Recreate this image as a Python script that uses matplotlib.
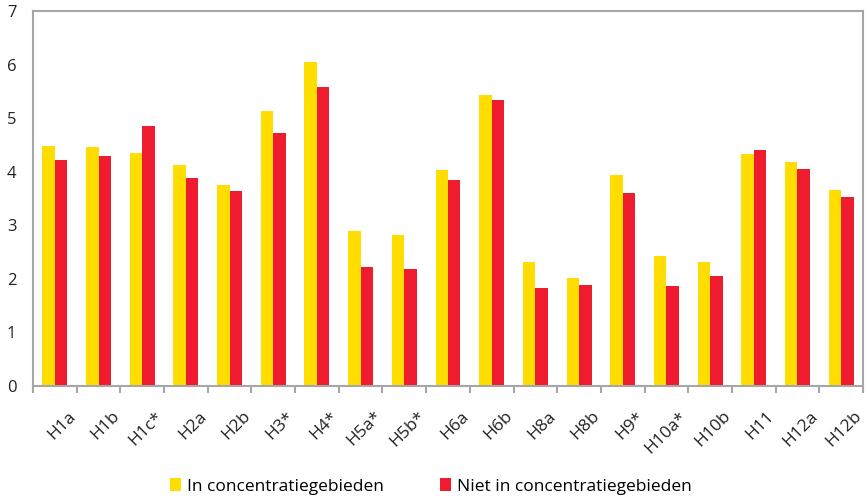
import numpy as np
import matplotlib as mlib
mlib.use('Agg')
import matplotlib.pyplot as plt
from matplotlib.transforms import ScaledTranslation

mlib.rcParams.update({'font.family': ['Open Sans', 'DejaVu Sans']})

categories = ['H1a', 'H1b', 'H1c*', 'H2a', 'H2b', 'H3*', 'H4*', 'H5a*', 'H5b*',
              'H6a', 'H6b', 'H8a', 'H8b', 'H9*', 'H10a*', 'H10b', 'H11',
              'H12a', 'H12b']
in_conc = [4.48, 4.46, 4.35, 4.13, 3.76, 5.14, 6.04, 2.89, 2.82,
           4.04, 5.43, 2.31, 2.01, 3.94, 2.42, 2.31, 4.33, 4.18, 3.66]
niet_conc = [4.21, 4.29, 4.85, 3.88, 3.64, 4.72, 5.58, 2.22, 2.18,
             3.85, 5.33, 1.83, 1.88, 3.61, 1.86, 2.06, 4.41, 4.05, 3.53]
series_labels = ['In concentratiegebieden', 'Niet in concentratiegebieden']

YELLOW = '#FFDD00'
RED = '#EE1C2E'
GREY = '#a6a6a6'

fig = plt.figure(figsize=(8.67, 4.98), dpi=100)
ax = fig.add_axes([33 / 867, 1 - 386 / 498, 830 / 867, 375 / 498])

x = np.arange(len(categories))
w = 0.285
ax.bar(x - w / 2, in_conc, w, color=YELLOW, label=series_labels[0])
ax.bar(x + w / 2, niet_conc, w, color=RED, label=series_labels[1])

ax.set_xlim(-0.5, len(categories) - 0.5)
ax.set_ylim(0, 7)
ax.set_yticks(range(0, 8))
ax.tick_params(axis='y', length=0, labelsize=12, labelcolor='#222222', pad=12)

# category boundary ticks
ax.set_xticks(np.arange(-0.5, len(categories), 1.0))
ax.set_xticklabels([])
ax.tick_params(axis='x', direction='out', length=5, color=GREY, width=1.5)
ax.set_xticks(x, minor=True)
ax.set_xticklabels(categories, minor=True, rotation=45, ha='right',
                   rotation_mode='anchor', fontsize=12.5, color='#222222')
ax.tick_params(axis='x', which='minor', length=0, pad=16)
offset = ScaledTranslation(9 / 72, 0, fig.dpi_scale_trans)
for lbl in ax.xaxis.get_minorticklabels():
    lbl.set_transform(lbl.get_transform() + offset)

for s in ax.spines.values():
    s.set_color(GREY)
    s.set_linewidth(1.5)

fig.legend(loc='lower center', bbox_to_anchor=(0.497, -0.025), ncol=2,
           frameon=False, fontsize=12.5, handlelength=0.65, handleheight=0.8,
           handletextpad=0.35, columnspacing=3.2)

fig.savefig('out.png', dpi=100)
